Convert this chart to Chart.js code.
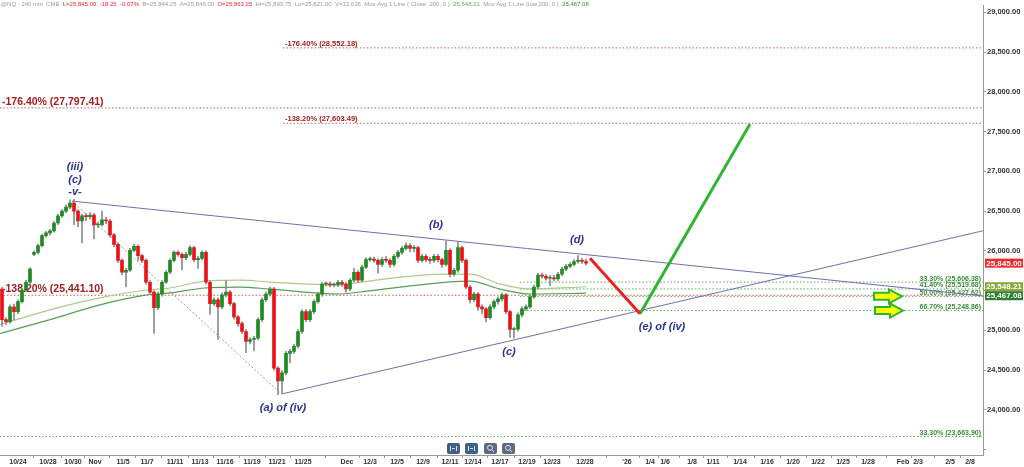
<!DOCTYPE html>
<html><head><meta charset="utf-8">
<script src="https://cdn.jsdelivr.net/npm/chart.js@4.4.1/dist/chart.umd.min.js"></script>
<style>html,body{margin:0;padding:0;background:#fff;overflow:hidden}canvas{display:block}</style>
</head><body>
<canvas id="c" width="1024" height="467"></canvas>
<script>
// ---- candle data (240-min bars, bar index 0..146) ----
const opens = [
25520,25135,25110,25295,25235,25360,25505,25605,25955,25980,
26065,26190,26225,26250,26350,26440,26500,26550,26600,26500,
26375,26440,26430,26450,26325,26330,26390,26375,26200,26080,
25880,25730,25755,26005,26055,25940,25880,25605,25480,25285,
25455,25605,25730,25880,25980,25955,25915,25955,26040,25890,
25905,25980,25605,25335,25385,25295,25445,25480,25335,25170,
25085,24985,24860,24885,24900,25135,25385,25455,25520,24525,
24365,24465,24710,24735,24800,24985,25235,25135,25235,25360,
25455,25580,25585,25570,25575,25605,25580,25520,25630,25730,
25630,25795,25890,25895,25880,25830,25890,25880,25830,25930,
25980,26030,26065,26030,26040,25880,25930,25890,25880,25930,
25890,25830,26005,25705,25755,26040,25880,25545,25385,25455,
25295,25270,25160,25295,25360,25395,25445,25235,25010,25015,
25195,25270,25295,25420,25545,25695,25680,25655,25660,25645,
25705,25770,25805,25830,25865,25880,25865];
const highs = [
25545,25160,25320,25330,25385,25530,25630,25790,26000,26085,
26210,26245,26270,26370,26460,26520,26575,26640,26645,26520,
26460,26470,26480,26470,26360,26500,26420,26395,26220,26100,
25900,25780,26030,26080,26075,25960,25900,25625,25500,25480,
25625,25750,25900,26000,26000,25975,25980,26065,26060,25930,
26000,26000,25625,25410,25410,25470,25625,25500,25355,25190,
25110,25010,24910,24925,25160,25410,25480,25545,25540,24545,
24490,24735,24760,24825,25010,25260,25260,25260,25385,25480,
25600,25610,25610,25595,25630,25630,25600,25650,25780,25750,
25820,25915,25920,25920,25900,25915,25930,25900,25955,26005,
26055,26100,26090,26070,26060,25955,25955,25920,25955,25955,
25910,26125,26025,25780,26120,26060,25900,25565,25480,25475,
25320,25290,25320,25385,25420,25470,25465,25255,25040,25220,
25295,25320,25445,25570,25720,25720,25705,25690,25690,25730,
25795,25830,25855,25890,25940,25905,25895];
const lows = [
25050,25075,25090,25130,25210,25340,25490,25590,25940,25960,
26050,26170,26200,26235,26330,26420,26480,26530,26330,26300,
26100,26380,26400,26150,26290,26310,26340,26170,26050,25850,
25700,25545,25740,25990,25880,25850,25580,25450,24960,25260,
25430,25590,25710,25860,25930,25760,25890,25935,25860,25780,
25885,25580,25200,25310,24885,25270,25420,25310,25140,25050,
24960,24720,24830,24740,24880,25110,25360,25430,24500,24190,
24200,24440,24590,24710,24780,24960,25110,25110,25210,25340,
25430,25555,25545,25545,25550,25555,25480,25500,25610,25600,
25610,25775,25865,25855,25720,25805,25855,25790,25805,25905,
25955,26010,25990,25990,25850,25860,25860,25840,25855,25860,
25790,25810,25670,25680,25730,25850,25520,25340,25360,25250,
25210,25105,25140,25270,25330,25370,25210,24910,24900,24990,
25170,25250,25275,25400,25525,25655,25630,25560,25620,25625,
25685,25750,25785,25810,25845,25840,25820];
const closes = [
25135,25110,25295,25235,25360,25505,25605,25770,25980,26065,
26190,26225,26250,26350,26440,26500,26550,26600,26500,26375,
26440,26430,26450,26325,26330,26390,26375,26200,26080,25880,
25730,25755,26005,26055,25940,25880,25605,25480,25285,25455,
25605,25730,25880,25980,25955,25915,25955,26040,25890,25905,
25980,25605,25335,25385,25295,25445,25480,25335,25170,25085,
24985,24860,24885,24900,25135,25385,25455,25520,24525,24365,
24465,24710,24735,24800,24985,25235,25135,25235,25360,25455,
25580,25585,25570,25575,25605,25580,25520,25630,25730,25630,
25795,25890,25895,25880,25830,25890,25880,25830,25930,25980,
26030,26065,26030,26040,25880,25930,25890,25880,25930,25890,
25830,26005,25705,25755,26040,25880,25545,25385,25455,25295,
25270,25160,25295,25360,25395,25445,25235,25010,25015,25195,
25270,25295,25420,25545,25695,25680,25655,25660,25645,25705,
25770,25805,25830,25865,25880,25865,25845];

// ---- axis ----
const xMin = -0.5, xMax = 245.25;
const xTickPos = [4,11.5,17.75,23.25,30.25,36.25,43.25,49.5,55.75,62.5,68.75,75.25,86.25,92,98.75,105.25,112,117.75,124.5,131.25,137.5,145.75,156.25,162,165.75,172.5,177.75,184.5,191.25,197.75,204,210.25,216.5,225.25,229,237,242];
const xTickLabels = ['10/24','10/28','10/30','Nov','11/5','11/7','11/11','11/13','11/16','11/19','11/21','11/25','Dec','12/3','12/5','12/9','12/11','12/14','12/17','12/19','12/23','12/28',"'26",'1/4','1/6','1/8','1/11','1/14','1/16','1/20','1/22','1/25','1/28','Feb','2/3','2/5','2/8'];
const yMin = 23432, yMax = 29085;
const yTickValues = [23500,24000,24500,25000,25500,26000,26500,27000,27500,28000,28500,29000];
const yTickHidden = [23500,25500];

// ---- moving averages ----
const maCloseX = [-0.5,12,24.5,36.25,42,50.75,59.5,67,84.5,89.5,111.25,117,124.5,132,146];
const maCloseY = [25072,25258,25408,25507,25532,25619,25631,25606,25569,25606,25706,25706,25582,25519,25548.21];
const maLowX = [-0.5,12,24.5,36.25,42,50.75,59.5,67,84.5,89.5,111.25,117,124.5,132,146];
const maLowY = [24960,25134,25321,25445,25470,25532,25544,25519,25457,25482,25606,25619,25519,25457,25467.08];

// ---- trend lines / projections ----
const upperTrendX = [17.5,245.25], upperTrendY = [26625,25432];
const lowerTrendX = [70.25,245.25], lowerTrendY = [24203,26252];
const diagX = [17.5,69.75], diagY = [26625,24203];
const projRedX = [147,159.5], projRedY = [25905,25209];
const projGreenX = [159.5,187], projGreenY = [25209,27594];

// ---- fibonacci levels ----
const fibRedLevels = [28552.18,27797.41,27603.49,25441.10];
const fibRedLabels = ['-176.40% (28,552.18)','-176.40% (27,797.41)','-138.20% (27,603.49)','-138.20% (25,441.10)'];
const fibRedStart = [70.25,-0.5,70.25,-0.5];
const fibGreenLevels = [25606.38,25519.68,25427.62,25248.86,23663.90];
const fibGreenLabels = ['33.30% (25,606.38)','41.40% (25,519.68)','50.00% (25,427.62)','66.70% (25,248.86)','33.30% (23,663.90)'];
const fibGreenStart = [129.5,129.5,129.5,129.5,-0.5];

// ---- annotations ----
const waveText = ['(iii)','(c)','-v-','(b)','(d)','(c)','(a) of (iv)','(e) of (iv)'];
const waveX = [18.25,18.25,18.25,108.5,143.75,126.75,70.25,165];
const waveY = [27059,26886,26737,26327,26140,24725,24029,25047];
const tagValues = [25845.00,25548.21,25467.08];
const arrowX = [225,225.25];
const arrowY = [25427.62,25248.86];

const fmt2 = v => v.toLocaleString('en-US',{minimumFractionDigits:2,maximumFractionDigits:2});
const pts = (xs, ys) => xs.map((v,i)=>({x:v,y:ys[i]}));
const idx = closes.map((_,i)=>i);

const datasets = [];
fibRedLevels.forEach((lv,i)=>datasets.push({type:'line',data:pts([fibRedStart[i],xMax],[lv,lv]),borderColor:'#d35a5a',borderWidth:1,borderDash:[1.5,2],pointRadius:0,order:20}));
fibGreenLevels.forEach((lv,i)=>datasets.push({type:'line',data:pts([fibGreenStart[i],xMax],[lv,lv]),borderColor:'#55b055',borderWidth:1,borderDash:[1.5,2],pointRadius:0,order:20}));
datasets.push({type:'line',data:pts(diagX,diagY),borderColor:'#e07a7a',borderWidth:1,borderDash:[2,2],pointRadius:0,order:19});
datasets.push({type:'line',data:pts(upperTrendX,upperTrendY),borderColor:'#6f6fb0',borderWidth:1,pointRadius:0,order:18});
datasets.push({type:'line',data:pts(lowerTrendX,lowerTrendY),borderColor:'#6f6fb0',borderWidth:1,pointRadius:0,order:18});
datasets.push({type:'line',data:pts(maCloseX,maCloseY),borderColor:'#aacd85',borderWidth:1.2,pointRadius:0,cubicInterpolationMode:'monotone',order:17});
datasets.push({type:'line',data:pts(maLowX,maLowY),borderColor:'#55a055',borderWidth:1.2,pointRadius:0,cubicInterpolationMode:'monotone',order:17});
datasets.push({type:'bar',data:idx.map(i=>({x:i,y:[lows[i],highs[i]]})),backgroundColor:'#8c8c8c',barThickness:1,grouped:false,order:16});
datasets.push({type:'bar',data:idx.map(i=>({x:i,y:[opens[i],closes[i]]})),backgroundColor:idx.map(i=>closes[i]>=opens[i]?'#1e8a24':'#e8141a'),barThickness:3,minBarLength:1,grouped:false,order:15});
datasets.push({type:'line',data:pts(projRedX,projRedY),borderColor:'#ee2020',borderWidth:3,pointRadius:0,order:10});
datasets.push({type:'line',data:pts(projGreenX,projGreenY),borderColor:'#2fb52f',borderWidth:3,pointRadius:0,order:10});

const overlay = {
  id:'overlay',
  beforeDatasetsDraw(chart){
    const {ctx, scales:{x,y}, chartArea} = chart;
    ctx.save();
    const redSizes = [7.5,10.5,7.5,10.5];
    fibRedLabels.forEach((t,i)=>{
      ctx.font = 'bold '+redSizes[i]+'px Arial';
      ctx.fillStyle = '#a32020';
      ctx.textAlign='left'; ctx.textBaseline='alphabetic';
      ctx.fillText(t, x.getPixelForValue(fibRedStart[i])+2, y.getPixelForValue(fibRedLevels[i])-(redSizes[i]>8?3:2));
    });
    fibGreenLabels.forEach((t,i)=>{
      ctx.font = 'bold 7px Arial';
      ctx.fillStyle = '#3c8c3c';
      ctx.textAlign='right'; ctx.textBaseline='alphabetic';
      ctx.fillText(t, chartArea.right-2, y.getPixelForValue(fibGreenLevels[i])-1.5);
    });
    ctx.restore();
  },
  afterDatasetsDraw(chart){
    const {ctx, scales:{x,y}} = chart;
    ctx.save();
    ctx.font = 'italic bold 11px Arial';
    ctx.fillStyle = '#2e3590';
    ctx.textAlign='center'; ctx.textBaseline='middle';
    waveText.forEach((t,i)=>ctx.fillText(t, x.getPixelForValue(waveX[i]), y.getPixelForValue(waveY[i])));
    arrowX.forEach((ax,i)=>{
      const px = x.getPixelForValue(ax), py = y.getPixelForValue(arrowY[i]);
      ctx.beginPath();
      ctx.moveTo(px,py); ctx.lineTo(px-13,py-7); ctx.lineTo(px-13,py-3.5); ctx.lineTo(px-28,py-3.5);
      ctx.lineTo(px-28,py+3.5); ctx.lineTo(px-13,py+3.5); ctx.lineTo(px-13,py+7); ctx.closePath();
      ctx.fillStyle='#ffff00'; ctx.fill();
      ctx.lineWidth=2; ctx.strokeStyle='#2db52d'; ctx.lineJoin='miter'; ctx.stroke();
    });
    ctx.restore();
  },
  afterDraw(chart){
    const {ctx, scales:{x,y}, chartArea} = chart;
    ctx.save();
    // x tick marks between labels
    ctx.strokeStyle='#999'; ctx.lineWidth=1;
    for(let i=0;i<xTickPos.length-1;i++){
      const m = Math.round((x.getPixelForValue(xTickPos[i])+x.getPixelForValue(xTickPos[i+1]))/2)+0.5;
      ctx.beginPath(); ctx.moveTo(m,chartArea.bottom); ctx.lineTo(m,chartArea.bottom+3); ctx.stroke();
    }
    // last value tags
    const tagColors = ['#ee2a2a','#8aa83a','#2f7d2f'];
    let prevBottom = -1e9;
    tagValues.forEach((v,i)=>{
      let top = y.getPixelForValue(v)-4.5;
      if(top < prevBottom) top = prevBottom;
      prevBottom = top+9;
      ctx.fillStyle = tagColors[i];
      ctx.fillRect(chartArea.right+2, top, 38, 9);
      ctx.fillStyle='#fff'; ctx.font='bold 8px Arial'; ctx.textAlign='center'; ctx.textBaseline='middle';
      ctx.fillText(fmt2(v), chartArea.right+21, top+5);
    });
    // header
    const parts = [
      ['@NQ - 240 min  CME  ','#9a9a9a'],
      ['L=25,845.00  -18.25  -0.07%  ','#ee2a2a'],
      ['B=25,844.25  A=25,846.00  ','#9a9a9a'],
      ['O=25,863.25  ','#ee2a2a'],
      ['Hi=25,893.75  Lo=25,821.00  V=13,636  Mov Avg 1 Line ( Close ,200, 0 )  ','#9a9a9a'],
      ['25,548.21  ','#6aa84f'],
      ['Mov Avg 1 Line (low,200, 0 )  ','#9a9a9a'],
      ['25,467.08','#3c8c3c']
    ];
    ctx.font='6px Arial'; ctx.textAlign='left'; ctx.textBaseline='top';
    let hx = 1;
    parts.forEach(([t,c])=>{ ctx.fillStyle=c; ctx.fillText(t,hx,1); hx += ctx.measureText(t).width; });
    // toolbar buttons
    const bx = [447,465,484,502];
    const bc = ['#3f5f86','#3f5f86','#5d6b7a','#5d6b7a'];
    bx.forEach((b,i)=>{
      ctx.fillStyle=bc[i];
      ctx.beginPath(); ctx.roundRect ? ctx.roundRect(b,443,13,11,2) : ctx.rect(b,443,13,11); ctx.fill();
      ctx.strokeStyle='#cfe3ff'; ctx.fillStyle='#cfe3ff'; ctx.lineWidth=1;
      if(i<2){
        ctx.beginPath(); ctx.moveTo(b+3.5,446); ctx.lineTo(b+3.5,451); ctx.moveTo(b+9.5,446); ctx.lineTo(b+9.5,451); ctx.stroke();
        ctx.beginPath(); ctx.moveTo(b+5,448.5); ctx.lineTo(b+8,448.5); ctx.stroke();
      } else {
        ctx.beginPath(); ctx.arc(b+6,447.8,2.5,0,Math.PI*2); ctx.stroke();
        ctx.beginPath(); ctx.moveTo(b+8,450); ctx.lineTo(b+10,452); ctx.stroke();
      }
    });
    ctx.restore();
  }
};

new Chart(document.getElementById('c'), {
  type:'bar',
  data:{datasets},
  options:{
    responsive:false, animation:false, devicePixelRatio:1,
    layout:{padding:0},
    plugins:{legend:{display:false},tooltip:{enabled:false}},
    scales:{
      x:{type:'linear',min:xMin,max:xMax,offset:false,
        grid:{display:true,drawOnChartArea:false,drawTicks:false,offset:false},
        border:{display:true,color:'#999'},
        afterBuildTicks:s=>{s.ticks = xTickPos.map(v=>({value:v}));},
        afterFit:s=>{s.height=12;},
        ticks:{autoSkip:false,maxRotation:0,padding:3,color:'#333',font:{family:'Arial',size:7,weight:'bold'},
          callback:(v,i)=>xTickLabels[i]}
      },
      y:{type:'linear',position:'right',min:yMin,max:yMax,
        grid:{display:true,drawOnChartArea:false,drawTicks:true,tickLength:3,color:'#999'},
        border:{display:true,color:'#999'},
        afterBuildTicks:s=>{s.ticks = yTickValues.map(v=>({value:v}));},
        afterFit:s=>{s.width=41;},
        ticks:{padding:1,color:'#333',font:{family:'Arial',size:7.5,weight:'bold'},
          callback:v=>yTickHidden.includes(v)?'':fmt2(v)}
      }
    }
  },
  plugins:[overlay]
});
</script>
</body></html>
